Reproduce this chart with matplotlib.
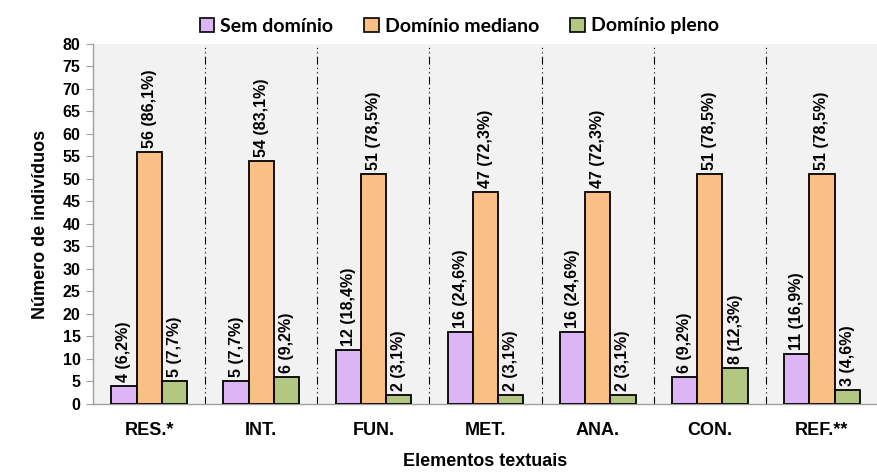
import matplotlib
matplotlib.use("Agg")
import matplotlib.pyplot as plt
import numpy as np

categories = ["RES.*", "INT.", "FUN.", "MET.", "ANA.", "CON.", "REF.**"]
series_names = ["Sem domínio", "Domínio mediano", "Domínio pleno"]
sem_dominio = [4, 5, 12, 16, 16, 6, 11]
dominio_mediano = [56, 54, 51, 47, 47, 51, 51]
dominio_pleno = [5, 6, 2, 2, 2, 8, 3]
pct_sem = ["6,2", "7,7", "18,4", "24,6", "24,6", "9,2", "16,9"]
pct_mediano = ["86,1", "83,1", "78,5", "72,3", "72,3", "78,5", "78,5"]
pct_pleno = ["7,7", "9,2", "3,1", "3,1", "3,1", "12,3", "4,6"]
y_ticks = list(range(0, 85, 5))

colors = ["#DDB4F5", "#F9BF85", "#B3C783"]
plt.rcParams["font.family"] = ["Liberation Sans", "DejaVu Sans"]

fig = plt.figure(figsize=(8.78, 4.73), dpi=100)
ax = fig.add_axes([0.106, 0.146, 0.894, 0.761])
ax.set_facecolor("#F2F2F2")

x = np.arange(len(categories))
w = 0.225
data = [sem_dominio, dominio_mediano, dominio_pleno]
pcts = [pct_sem, pct_mediano, pct_pleno]
for i, (vals, pc, col, name) in enumerate(zip(data, pcts, colors, series_names)):
    pos = x + (i - 1) * w
    ax.bar(pos, vals, width=w, color=col, edgecolor="black", linewidth=1.3,
           label=name, zorder=3)
    for xp, v, p in zip(pos, vals, pc):
        ax.annotate(f"{v} ({p}%)", (xp, v), xytext=(0, 3),
                    textcoords="offset points", rotation=90,
                    ha="center", va="bottom", fontsize=11.5,
                    fontweight="bold", zorder=4)

for b in x[:-1] + 0.5:
    ax.axvline(b, color="black", linewidth=0.8,
               linestyle=(0, (7, 3, 1, 3, 1, 3)), zorder=2)

ax.set_xlim(-0.5, len(categories) - 0.5)
ax.set_ylim(0, 80)
ax.set_yticks(y_ticks)
ax.set_yticklabels([str(t) for t in y_ticks], fontsize=11.5, fontweight="bold")
ax.set_xticks(x)
ax.set_xticklabels(categories, fontsize=13, fontweight="bold")
ax.tick_params(axis="x", length=0, pad=13)
ax.tick_params(axis="y", length=5, color="#A0A0A0", pad=4)

for s in ["top", "right"]:
    ax.spines[s].set_visible(False)
for s in ["left", "bottom"]:
    ax.spines[s].set_color("#A0A0A0")
    ax.spines[s].set_linewidth(1.0)

ax.set_ylabel("Número de indivíduos", fontsize=13, fontweight="bold", labelpad=10)
ax.set_xlabel("Elementos textuais", fontsize=13, fontweight="bold", labelpad=10)

leg = fig.legend(loc="upper center", bbox_to_anchor=(0.523, 1.0), ncol=3,
                 frameon=False, handlelength=0.75, handleheight=0.75,
                 handletextpad=0.3, columnspacing=1.6,
                 prop={"family": ["Lato", "DejaVu Sans"], "weight": "bold", "size": 14})
for h in leg.legend_handles:
    h.set_linewidth(1.2)

fig.savefig("out.png", dpi=100)
